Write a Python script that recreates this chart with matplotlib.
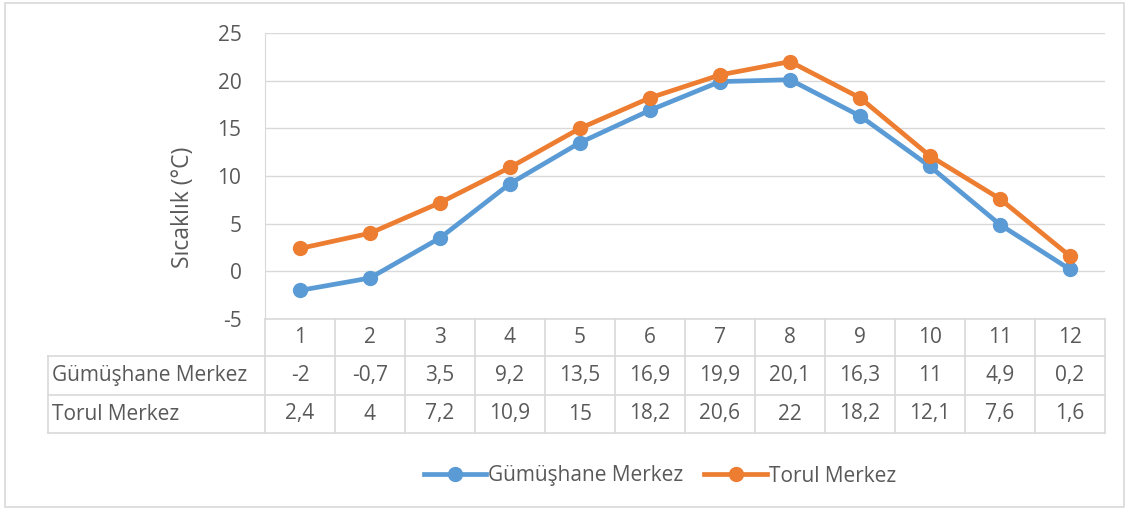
import numpy as np
import matplotlib.pyplot as plt
from matplotlib.lines import Line2D
from matplotlib.patches import Rectangle

# Veriler
aylar = [1, 2, 3, 4, 5, 6, 7, 8, 9, 10, 11, 12]
gumushane = [-2, -0.7, 3.5, 9.2, 13.5, 16.9, 19.9, 20.1, 16.3, 11, 4.9, 0.2]
torul = [2.4, 4, 7.2, 10.9, 15, 18.2, 20.6, 22, 18.2, 12.1, 7.6, 1.6]
seriler = ['Gümüşhane Merkez', 'Torul Merkez']
renkler = ['#5B9BD5', '#ED7D31']
y_ticks = [-5, 0, 5, 10, 15, 20, 25]

plt.rcParams['font.family'] = ['Open Sans', 'DejaVu Sans']
plt.rcParams['axes.unicode_minus'] = False
yazi = '#595959'
izgara = '#D9D9D9'
fs = 15

W, H = 1129, 509
fig = plt.figure(figsize=(W / 100, H / 100), dpi=100)

def fx(px):
    return px / W

def fy(py):
    return 1 - py / H

# dis cerceve
fig.patches.append(Rectangle((fx(5), fy(507)), fx(1124) - fx(5), fy(3) - fy(507),
                             transform=fig.transFigure, fill=False,
                             edgecolor=izgara, linewidth=1.2))

sol, sag, ust, alt = 265, 1105, 33, 319
ax = fig.add_axes([fx(sol), fy(alt), fx(sag) - fx(sol), fy(ust) - fy(alt)])

x = np.array(aylar) - 0.5
ax.plot(x, gumushane, color=renkler[0], lw=3.4, marker='o', ms=10, label=seriler[0])
ax.plot(x, torul, color=renkler[1], lw=3.4, marker='o', ms=10, label=seriler[1])

ax.set_xlim(0, 12)
ax.set_ylim(-5, 25)
ax.set_yticks(y_ticks)
ax.set_xticks([])
ax.grid(axis='y', color=izgara, lw=1)
ax.set_axisbelow(True)
for s in ['top', 'right', 'bottom']:
    ax.spines[s].set_visible(False)
ax.spines['left'].set_color(izgara)
ax.tick_params(axis='y', length=0, labelsize=fs, labelcolor=yazi, pad=17)
ax.set_ylabel('Sıcaklık (°C)', fontsize=16.5, color=yazi)
ax.yaxis.set_label_coords(-0.083, 0.392)

# veri tablosu
satirlar = [319, 356, 395, 433]
tablo_sol = 48
kol = (sag - sol) / 12

def cizgi(x0, y0, x1, y1):
    fig.add_artist(Line2D([fx(x0), fx(x1)], [fy(y0), fy(y1)], color=izgara, lw=1.2))

cizgi(sol, satirlar[0], sag, satirlar[0])
for yy in satirlar[1:]:
    cizgi(tablo_sol, yy, sag, yy)
cizgi(tablo_sol, satirlar[1], tablo_sol, satirlar[3])
for i in range(13):
    cizgi(sol + i * kol, satirlar[0], sol + i * kol, satirlar[3])

def bicim(v):
    return ('%g' % v).replace('.', ',')

for i, ay in enumerate(aylar):
    cx = fx(sol + (i + 0.5) * kol)
    fig.text(cx, fy((satirlar[0] + satirlar[1]) / 2), str(ay), ha='center', va='center',
             fontsize=fs, color=yazi)
    fig.text(cx, fy((satirlar[1] + satirlar[2]) / 2), bicim(gumushane[i]), ha='center',
             va='center', fontsize=fs, color=yazi)
    fig.text(cx, fy((satirlar[2] + satirlar[3]) / 2), bicim(torul[i]), ha='center',
             va='center', fontsize=fs, color=yazi)

fig.text(fx(52), fy((satirlar[1] + satirlar[2]) / 2), seriler[0], ha='left', va='center',
         fontsize=fs, color=yazi)
fig.text(fx(52), fy((satirlar[2] + satirlar[3]) / 2), seriler[1], ha='left', va='center',
         fontsize=fs, color=yazi)

fig.legend(loc='center', bbox_to_anchor=(fx(660), fy(476)), ncol=2, frameon=False,
           fontsize=fs, labelcolor=yazi, handlelength=3.0, handletextpad=0.1,
           columnspacing=1.0)

fig.savefig('out.png', dpi=100)
